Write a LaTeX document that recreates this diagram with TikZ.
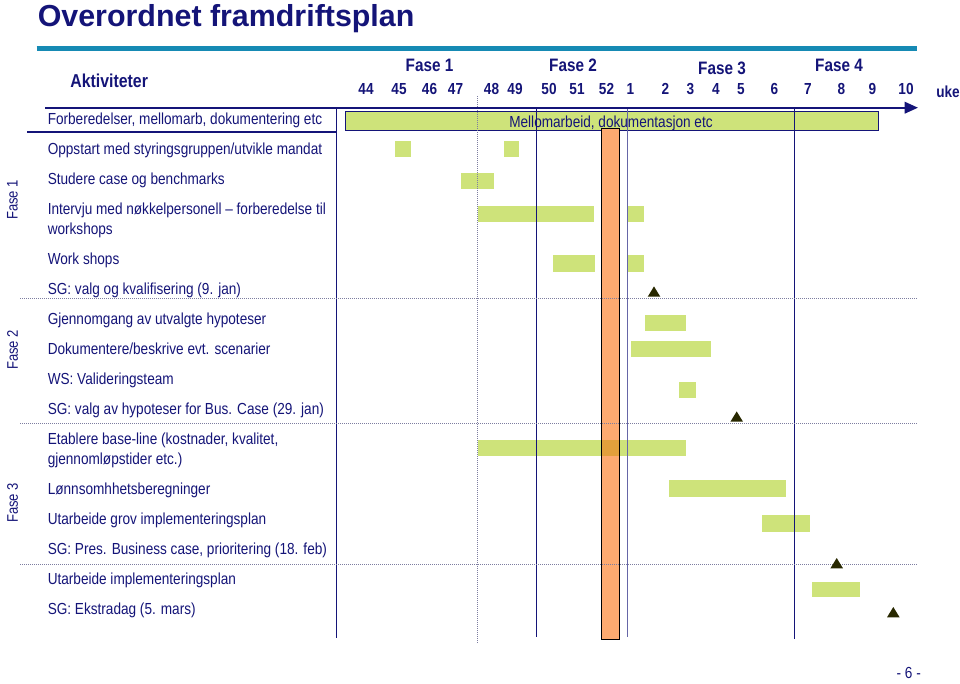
\documentclass[tikz,border=0pt]{standalone}
\usepackage{fontspec}
\setmainfont{Liberation Sans}
\newfontfamily\narrowsf{Liberation Sans}[FakeStretch=0.85]
\usetikzlibrary{arrows.meta}
\definecolor{planblue}{RGB}{20,20,120}
\definecolor{rulecyan}{RGB}{22,138,180}
\definecolor{barlime}{RGB}{206,227,122}
\definecolor{barpeach}{RGB}{253,170,112}
\definecolor{barmix}{RGB}{226,160,60}
\definecolor{sepgrey}{RGB}{125,125,160}
\definecolor{mstone}{RGB}{40,40,0}
\tikzset{
  rowtext/.style={anchor=base west,text=planblue,inner sep=0pt},
  weektext/.style={anchor=base,text=planblue,inner sep=0pt,font=\narrowsf\bfseries\fontsize{12}{14}\selectfont},
  fasetext/.style={anchor=base,text=planblue,inner sep=0pt,font=\narrowsf\bfseries\fontsize{13.5}{16}\selectfont},
  sidetext/.style={rotate=90,text=planblue,inner sep=0pt,font=\narrowsf\fontsize{11.5}{14}\selectfont},
  activity/.style={fill=barlime},
  phaseline/.style={sepgrey,line width=0.75pt,dash pattern=on 0.75pt off 0.75pt},
  weekline/.style={planblue,line width=1.1pt}
}
\newcommand{\milestone}[2]{\fill[mstone,shift={(#1,#2)}] (-6.3,0) -- (0,-10.3) -- (6.3,0) -- cycle;}

\begin{document}
\begin{tikzpicture}[x=0.75pt,y=-0.75pt,font=\narrowsf\fontsize{12}{15}\selectfont,line cap=butt]
\useasboundingbox (0,0) rectangle (960,683);
\node[anchor=base west,text=planblue,inner sep=0pt,font=\normalfont\bfseries\fontsize{22.8}{27}\selectfont] (title) at (37.5,26) {Overordnet framdriftsplan};
\draw[rulecyan,line width=3.75pt] (36.7,48.5) -- (917,48.5);
\node[anchor=base,text=planblue,inner sep=0pt,font=\narrowsf\bfseries\fontsize{14}{17}\selectfont] (akt) at (109.2,87.3) {Aktiviteter};
\node[fasetext] (fase1) at (429.5,71.7) {Fase 1};
\node[fasetext] (fase2) at (573,71.7) {Fase 2};
\node[fasetext] (fase3) at (722,74.7) {Fase 3};
\node[fasetext] (fase4) at (839,71.7) {Fase 4};
\foreach \w/\xx in {44/366,45/399,46/429.5,47/455.5,48/491.5,49/515,50/549,51/577,52/606.5,1/630.5,2/665.5,3/690.5,4/716,5/741,6/774.5,7/808,8/841.5,9/872.5,10/906}
  \node[weektext] (w\w) at (\xx,94.3) {\w};
\node[weektext] (uke) at (948,97.5) {uke};
% tabell og tidsakse
\coordinate (axisL) at (45,107.7);
\coordinate (axisR) at (918,107.7);
\draw[planblue,line width=1.1pt] (27,132) -- (336.5,132);
\draw[planblue,line width=1.1pt] (336.5,107.7) -- (336.5,638);
\draw[planblue,line width=0.75pt,fill=barlime] (345,111) rectangle (878,130);
\foreach \xa/\ya/\xb/\yb in {395.3/140.7/410.7/157,503.7/140.7/519/157,460.7/172.5/494/188.5,478.3/206/594/222.3,628.3/206/643.7/222.3,553.3/255.3/595.3/271.7,628.3/255.3/643.7/271.7,645.3/314.5/685.7/331,630.5/340.6/710.8/356.5,678.9/382/695.5/398.3,478.3/440/685.7/455.7,669/480.3/785.7/497.3,761.7/515.3/810.3/532,811.7/582/860.3/597.3}
  \fill[activity] (\xa,\ya) rectangle (\xb,\yb);
\draw[black,line width=0.75pt,fill=barpeach] (601.7,128) rectangle (619.3,639);
\fill[barmix] (602.1,440) rectangle (618.9,455.7);
\node[text=planblue,inner sep=0pt,anchor=base] (mellom) at (611,127) {Mellomarbeid, dokumentasjon etc};
\draw[sepgrey,line width=1pt,dash pattern=on 0.75pt off 0.75pt] (477.7,96) -- (477.7,643);
\draw[weekline] (536.5,107.7) -- (536.5,637);
\draw[weekline,planblue!65] (627.3,107.7) -- (627.3,637);
\draw[weekline] (794.3,107.7) -- (794.3,639);
\foreach \yy in {298,423.5,564.5}
  \draw[phaseline] (20,\yy) -- (918,\yy);
\draw[planblue,line width=1.6pt,-{Triangle[length=10pt,width=8.6pt]}] (axisL) -- (axisR);
\milestone{654}{296.7}
\milestone{736.7}{421.7}
\milestone{836.7}{568.3}
\milestone{893.3}{617.3}
% aktiviteter
\foreach \yy/\txt [count=\i] in {124.5/{Forberedelser, mellomarb, dokumentering etc},154.5/{Oppstart med styringsgruppen/utvikle mandat},184.5/{Studere case og benchmarks},214.5/{Intervju med nøkkelpersonell – forberedelse til},234.5/{workshops},264.5/{Work shops},294.5/{SG: valg og kvalifisering (9. jan)},324.5/{Gjennomgang av utvalgte hypoteser},354.5/{Dokumentere/beskrive evt. scenarier},384.5/{WS: Valideringsteam},414.5/{SG: valg av hypoteser for Bus. Case (29. jan)},444.5/{Etablere base-line (kostnader, kvalitet,},464.5/{gjennomløpstider etc.)},494.5/{Lønnsomhhetsberegninger},524.5/{Utarbeide grov implementeringsplan},554.5/{SG: Pres. Business case, prioritering (18. feb)},584.5/{Utarbeide implementeringsplan},614.5/{SG: Ekstradag (5. mars)}}
  \node[rowtext] (row\i) at (47.5,\yy) {\txt};
\node[sidetext] (side1) at (12.5,200) {Fase 1};
\node[sidetext] (side2) at (12.5,350) {Fase 2};
\node[sidetext] (side3) at (12.5,503) {Fase 3};
\node[text=planblue,inner sep=0pt,anchor=base] (page) at (908.7,678.3) {- 6 -};
\end{tikzpicture}
\end{document}
